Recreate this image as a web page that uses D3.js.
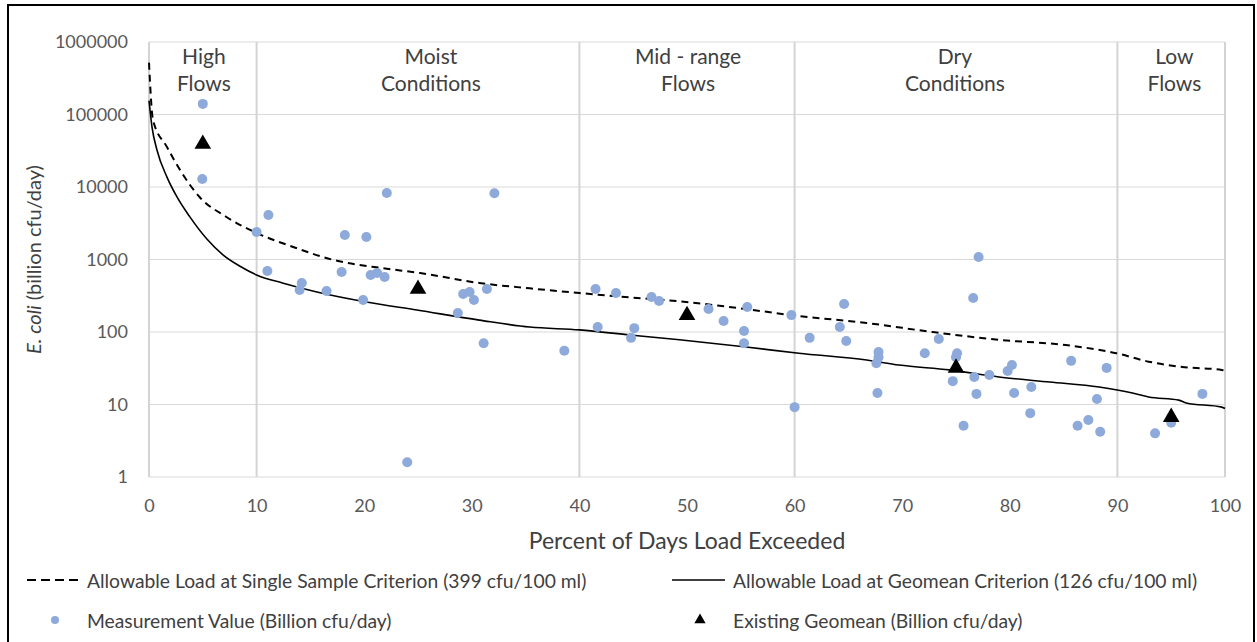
<!DOCTYPE html>
<html>
<head lang="en">
    <meta charset="UTF-8">
    <title>E. coli load duration curve</title>
    <script src="https://cdn.jsdelivr.net/npm/d3@7"></script>
    <style>
        body { margin: 0; background: #fff; }
        text { font-family: Lato, "Open Sans", sans-serif; }
        .tick text { fill: #595959; font-size: 18px; }
        .grid line { stroke: #d9d9d9; stroke-width: 1.2px; }
        .divider { stroke: #d4d4d4; stroke-width: 2px; }
        .cat { fill: #404040; font-size: 21px; }
        .title { fill: #404040; font-size: 23px; }
        .legend text { fill: #404040; font-size: 19.3px; }
    </style>
</head>
<body>
<script>

    // flow duration intervals
    var zoneNames = [["High", "Flows"], ["Moist", "Conditions"], ["Mid - range", "Flows"], ["Dry", "Conditions"], ["Low", "Flows"]];
    var zoneCenters = [5.1, 26.2, 50.1, 74.9, 95.3];
    var zoneBreaks = [10, 40, 60, 90];

    var xTicks = [0, 10, 20, 30, 40, 50, 60, 70, 80, 90, 100];
    var yTicks = [1, 10, 100, 1000, 10000, 100000, 1000000];

    // allowable load at single sample criterion (399 cfu/100 ml)
    var ssPct = [0, 0.37, 1.67, 3.06, 4.7, 7.2, 10, 13.4, 17.1, 21.7, 25.2, 30.7, 35.4, 40, 44.7, 49.3, 53.9, 60.4, 66.7, 72.8, 79, 85.2, 89.9, 92.9, 96, 99.7, 100];
    var ssLoad = [520000, 84000, 35600, 15600, 7280, 3860, 2320, 1490, 990, 760, 651, 474, 400, 345, 300, 265, 222, 166, 133, 100, 78, 66, 51, 39, 33, 30, 29];

    // allowable load at geomean criterion (126 cfu/100 ml)
    var gmPct = [0, 0.28, 0.74, 1.67, 2.6, 3.8, 5.4, 6.9, 8.5, 10, 12.4, 15.6, 20.2, 24.9, 30.7, 35.4, 40, 44.7, 49.3, 55.5, 60.4, 66.7, 69.7, 74.4, 79, 83.7, 88.3, 91.4, 92.9, 95.7, 96.4, 99.7, 100];
    var gmLoad = [155000, 67000, 32400, 13700, 7300, 3870, 1900, 1150, 800, 611, 474, 356, 259, 201, 146, 117, 107, 91, 78, 62, 51, 41, 35, 30, 24, 20.4, 17.4, 14.4, 12.7, 11.5, 10.5, 9.2, 8.8];

    // measurement values (billion cfu/day)
    var measPct = [5.0, 4.95, 11.1, 10.0, 18.2, 20.2, 22.1, 32.1, 11.0, 14.2, 14.0, 16.5, 17.9, 20.6, 21.2, 21.9, 19.9, 24.0,
        29.2, 29.8, 30.2, 31.4, 28.7, 31.1, 38.6, 41.5, 41.7, 43.4, 45.1, 44.8, 46.7, 47.4, 52.0, 53.4, 55.6, 55.3, 55.3,
        59.7, 60.0, 61.4, 64.6, 64.2, 64.8, 67.8, 67.8, 67.6, 67.7, 72.1, 73.4, 75.1, 75.0, 74.7, 77.1, 76.6, 76.7, 76.9,
        75.7, 78.1, 79.8, 80.2, 80.4, 82.0, 81.9, 85.7, 86.3, 87.3, 88.1, 88.4, 89.0, 93.5, 95.0, 97.9];
    var measLoad = [140000, 12900, 4110, 2390, 2180, 2040, 8260, 8200, 694, 474, 380, 368, 672, 611, 651, 574, 276, 1.6,
        334, 356, 276, 392, 183, 70, 55, 392, 117, 345, 113, 83, 304, 268, 208, 142, 221, 103, 70,
        171, 9.2, 83, 243, 117, 75, 53, 45, 37, 14.4, 51, 80, 51, 45, 21, 1080, 294, 24, 14,
        5.1, 25.5, 29, 35, 14.4, 17.4, 7.6, 40, 5.1, 6.1, 11.9, 4.2, 32, 4.0, 5.6, 14];

    // existing geomean per interval
    var geoPct = [5, 25, 50, 75, 95];
    var geoLoad = [39200, 392, 170, 32, 6.7];

    var width = 1257,
            height = 642;

    var svg = d3.select("body").append("svg")
            .attr("width", width)
            .attr("height", height);

    svg.append("rect")
            .attr("x", 8).attr("y", 5)
            .attr("width", 1246).attr("height", 660)
            .attr("fill", "#fff")
            .attr("stroke", "#000")
            .attr("stroke-width", 2);

    var x = d3.scaleLinear().domain([0, 100]).range([149, 1225]);
    var y = d3.scaleLog().domain([1, 1000000]).range([477, 42]);

    // gridlines
    svg.append("g").attr("class", "grid")
            .selectAll("line").data(yTicks).enter().append("line")
            .attr("x1", x(0)).attr("x2", x(100))
            .attr("y1", function(d) { return y(d); })
            .attr("y2", function(d) { return y(d); });

    svg.append("g").selectAll("line").data([0, 100].concat(zoneBreaks)).enter().append("line")
            .attr("class", "divider")
            .attr("x1", function(d) { return x(d); })
            .attr("x2", function(d) { return x(d); })
            .attr("y1", y(1000000)).attr("y2", y(1));

    // axes (labels only)
    var xAxis = svg.append("g")
            .attr("transform", "translate(0," + (y(1) + 19) + ")")
            .call(d3.axisBottom(x).tickValues(xTicks).tickSize(0).tickFormat(d3.format("d")));
    xAxis.select(".domain").remove();

    var yAxis = svg.append("g")
            .attr("transform", "translate(" + (x(0) - 18) + ",0)")
            .call(d3.axisLeft(y).tickValues(yTicks).tickSize(0).tickFormat(d3.format("d")));
    yAxis.select(".domain").remove();

    // zone labels
    zoneNames.forEach(function(lines, i) {
        lines.forEach(function(s, j) {
            svg.append("text").attr("class", "cat")
                    .attr("x", x(zoneCenters[i]))
                    .attr("y", 55 + j * 27)
                    .attr("text-anchor", "middle")
                    .attr("dominant-baseline", "central")
                    .text(s);
        });
    });

    // curves
    var line = d3.line()
            .x(function(d) { return x(d[0]); })
            .y(function(d) { return y(d[1]); })
            .curve(d3.curveMonotoneX);

    svg.append("path")
            .datum(d3.zip(ssPct, ssLoad))
            .attr("d", line)
            .attr("fill", "none")
            .attr("stroke", "#000")
            .attr("stroke-width", 2)
            .attr("stroke-dasharray", "7,5");

    svg.append("path")
            .datum(d3.zip(gmPct, gmLoad))
            .attr("d", line)
            .attr("fill", "none")
            .attr("stroke", "#000")
            .attr("stroke-width", 1.6);

    // measurements
    svg.append("g").selectAll("circle")
            .data(d3.zip(measPct, measLoad)).enter().append("circle")
            .attr("cx", function(d) { return x(d[0]); })
            .attr("cy", function(d) { return y(d[1]); })
            .attr("r", 5)
            .attr("fill", "#8eaadb");

    // existing geomean
    var tri = d3.symbol().type(d3.symbolTriangle).size(120);
    svg.append("g").selectAll("path")
            .data(d3.zip(geoPct, geoLoad)).enter().append("path")
            .attr("d", tri)
            .attr("transform", function(d) { return "translate(" + x(d[0]) + "," + y(d[1]) + ")"; })
            .attr("fill", "#000");

    // axis titles
    svg.append("text").attr("class", "title")
            .attr("x", (x(0) + x(100)) / 2)
            .attr("y", 540)
            .attr("text-anchor", "middle")
            .attr("dominant-baseline", "central")
            .text("Percent of Days Load Exceeded");

    var yt = svg.append("text").attr("class", "title")
            .attr("transform", "translate(33," + ((y(1) + y(1000000)) / 2) + ") rotate(-90)")
            .attr("text-anchor", "middle")
            .attr("dominant-baseline", "central")
            .style("font-size", "20px");
    yt.append("tspan").style("font-style", "italic").text("E. coli");
    yt.append("tspan").text(" (billion cfu/day)");

    // legend
    var lg = svg.append("g").attr("class", "legend");

    lg.append("line").attr("x1", 27).attr("x2", 83).attr("y1", 580).attr("y2", 580)
            .attr("stroke", "#000").attr("stroke-width", 2).attr("stroke-dasharray", "9,5");
    lg.append("text").attr("x", 87).attr("y", 580).attr("dominant-baseline", "central")
            .text("Allowable Load at Single Sample Criterion (399 cfu/100 ml)");

    lg.append("line").attr("x1", 672).attr("x2", 725).attr("y1", 580).attr("y2", 580)
            .attr("stroke", "#000").attr("stroke-width", 1.6);
    lg.append("text").attr("x", 733).attr("y", 580).attr("dominant-baseline", "central")
            .text("Allowable Load at Geomean Criterion (126 cfu/100 ml)");

    lg.append("circle").attr("cx", 55).attr("cy", 620).attr("r", 4).attr("fill", "#8eaadb");
    lg.append("text").attr("x", 87).attr("y", 620).attr("dominant-baseline", "central")
            .text("Measurement Value (Billion cfu/day)");

    lg.append("path").attr("d", d3.symbol().type(d3.symbolTriangle).size(55))
            .attr("transform", "translate(700,620)").attr("fill", "#000");
    lg.append("text").attr("x", 733).attr("y", 620).attr("dominant-baseline", "central")
            .text("Existing Geomean (Billion cfu/day)");

</script>
</body>
</html>
